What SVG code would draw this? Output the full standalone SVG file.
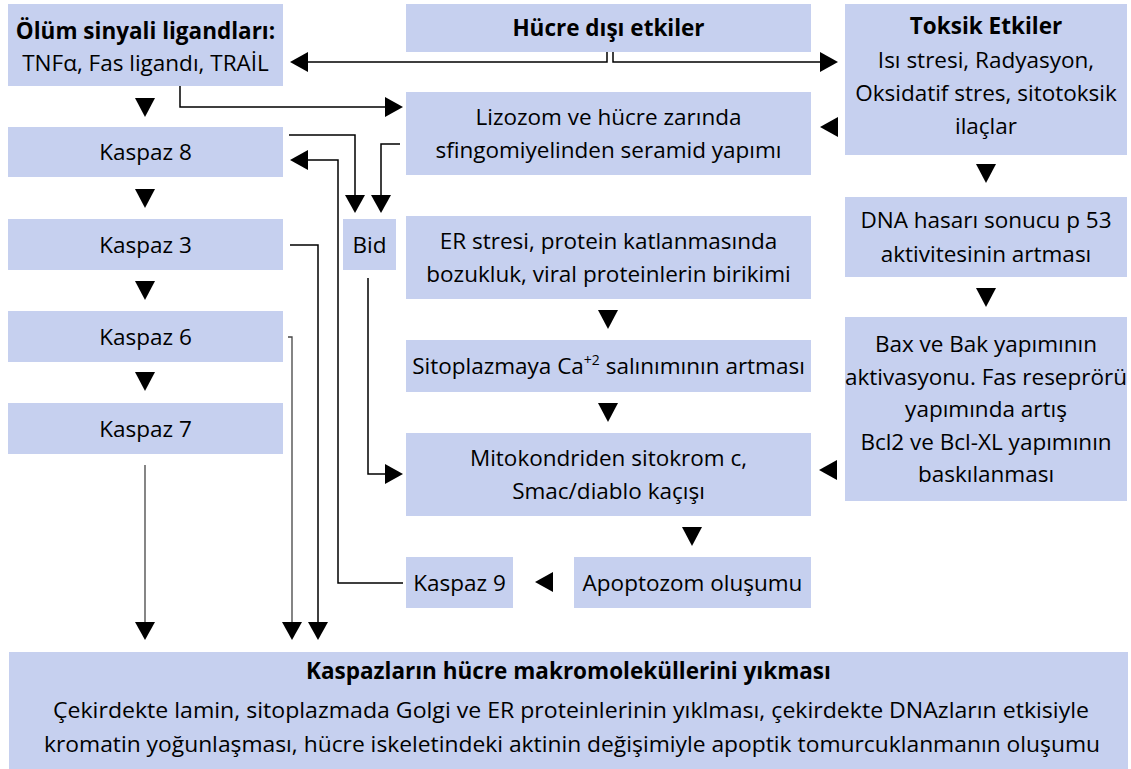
<svg xmlns="http://www.w3.org/2000/svg" xmlns:xlink="http://www.w3.org/1999/xlink" width="1131" height="769" viewBox="0 0 1131 769">
<style>
.box{fill:#c6d0ef;}
text{font-family:"Open Sans","Liberation Sans",sans-serif;font-size:22.5px;fill:#000;text-anchor:middle;}
.b{font-weight:700;}
.con{fill:none;stroke:#000;stroke-width:1.5;}
.thin{stroke:#444;stroke-width:1.3;}
.tri{fill:#000;}
</style>
<defs>
<marker id="ah" markerUnits="userSpaceOnUse" viewBox="0 0 18 20" refX="0" refY="10" markerWidth="18" markerHeight="20" orient="auto">
<path d="M0,0 L18,10 L0,20 z" fill="#000"/>
</marker>
<path id="tdown" class="tri" d="M-10,-9 H10 L0,10 z"/>
<path id="tleft" class="tri" d="M9,-10 V10 L-9,0 z"/>
</defs>
<rect width="1131" height="769" fill="#fff"/>

<g id="olum"><rect class="box" x="8" y="4" width="275" height="82"/>
<text x="145.5" y="39" class="b">Ölüm sinyali ligandları:</text>
<text x="145.5" y="71">TNFα, Fas ligandı, TRAİL</text></g>
<g id="kaspaz8"><rect class="box" x="8" y="127" width="275" height="50"/><text x="145.5" y="160">Kaspaz 8</text></g>
<g id="kaspaz3"><rect class="box" x="8" y="219" width="275" height="51"/><text x="145.5" y="253">Kaspaz 3</text></g>
<g id="kaspaz6"><rect class="box" x="8" y="311" width="275" height="51"/><text x="145.5" y="345">Kaspaz 6</text></g>
<g id="kaspaz7"><rect class="box" x="8" y="403" width="275" height="51"/><text x="145.5" y="437">Kaspaz 7</text></g>
<g id="bid"><rect class="box" x="343" y="219" width="53" height="51"/><text x="369.5" y="253">Bid</text></g>
<g id="hucre"><rect class="box" x="406" y="4" width="405" height="48"/><text x="608.5" y="36" class="b">Hücre dışı etkiler</text></g>
<g id="lizozom"><rect class="box" x="406" y="92" width="405" height="83"/>
<text x="608.5" y="125">Lizozom ve hücre zarında</text>
<text x="608.5" y="158">sfingomiyelinden seramid yapımı</text></g>
<g id="er"><rect class="box" x="406" y="216" width="405" height="83"/>
<text x="608.5" y="249">ER stresi, protein katlanmasında</text>
<text x="608.5" y="282">bozukluk, viral proteinlerin birikimi</text></g>
<g id="sito"><rect class="box" x="406" y="340" width="405" height="52"/>
<text x="608.5" y="374">Sitoplazmaya Ca<tspan dy="-9" font-size="14">+2</tspan><tspan dy="9"> salınımının artması</tspan></text></g>
<g id="mito"><rect class="box" x="406" y="433" width="405" height="83"/>
<text x="608.5" y="466">Mitokondriden sitokrom c,</text>
<text x="608.5" y="499">Smac/diablo kaçışı</text></g>
<g id="kaspaz9"><rect class="box" x="406" y="557" width="107" height="51"/><text x="459.5" y="591">Kaspaz 9</text></g>
<g id="apop"><rect class="box" x="574" y="557" width="237" height="51"/><text x="692.5" y="591">Apoptozom oluşumu</text></g>
<g id="toksik"><rect class="box" x="845" y="4" width="282" height="151"/>
<text x="986" y="34" class="b">Toksik Etkiler</text>
<text x="986" y="68">Isı stresi, Radyasyon,</text>
<text x="986" y="101">Oksidatif stres, sitotoksik</text>
<text x="986" y="134">ilaçlar</text></g>
<g id="dna"><rect class="box" x="845" y="197" width="282" height="80"/>
<text x="986" y="228">DNA hasarı sonucu p 53</text>
<text x="986" y="262">aktivitesinin artması</text></g>
<g id="bax"><rect class="box" x="845" y="317" width="282" height="184"/>
<text x="986" y="352">Bax ve Bak yapımının</text>
<text x="986" y="384.5">aktivasyonu. Fas reseprörü</text>
<text x="986" y="417">yapımında artış</text>
<text x="986" y="449.5">Bcl2 ve Bcl-XL yapımının</text>
<text x="986" y="482">baskılanması</text></g>
<g id="yikim"><rect class="box" x="9" y="652" width="1119" height="117"/>
<text x="568.5" y="679" class="b">Kaspazların hücre makromoleküllerini yıkması</text>
<text x="571" y="718" textLength="1036" lengthAdjust="spacingAndGlyphs">Çekirdekte lamin, sitoplazmada Golgi ve ER proteinlerinin yıklması, çekirdekte DNAzların etkisiyle</text>
<text x="572" y="752" textLength="1056" lengthAdjust="spacingAndGlyphs">kromatin yoğunlaşması, hücre iskeletindeki aktinin değişimiyle apoptik tomurcuklanmanın oluşumu</text></g>

<g id="connectors">
<path class="con" d="M607,52 V62 H308" marker-end="url(#ah)"/>
<path class="con" d="M613,52 V62 H820" marker-end="url(#ah)"/>
<path class="con" d="M180,86 V107 H385" marker-end="url(#ah)"/>
<path class="con" d="M289,135 H355 V195" marker-end="url(#ah)"/>
<path class="con" d="M400,144 H381 V195" marker-end="url(#ah)"/>
<path class="con" d="M403,583 H338 V160 H308" marker-end="url(#ah)"/>
<path class="con" d="M290,245 H318 V622" marker-end="url(#ah)"/>
<path class="con thin" d="M288,337 H292 V622" marker-end="url(#ah)"/>
<path class="con thin" d="M145,465 V622" marker-end="url(#ah)"/>
<path class="con" d="M368,278 V474 H385" marker-end="url(#ah)"/>
<use xlink:href="#tdown" x="145" y="107"/>
<use xlink:href="#tdown" x="145" y="198"/>
<use xlink:href="#tdown" x="145" y="290"/>
<use xlink:href="#tdown" x="145" y="381"/>
<use xlink:href="#tdown" x="608" y="319"/>
<use xlink:href="#tdown" x="608" y="412"/>
<use xlink:href="#tdown" x="692" y="536"/>
<use xlink:href="#tdown" x="986" y="173"/>
<use xlink:href="#tdown" x="986" y="297"/>
<use xlink:href="#tleft" x="829" y="127"/>
<use xlink:href="#tleft" x="828" y="470"/>
<use xlink:href="#tleft" x="544" y="582"/>
</g>
</svg>
